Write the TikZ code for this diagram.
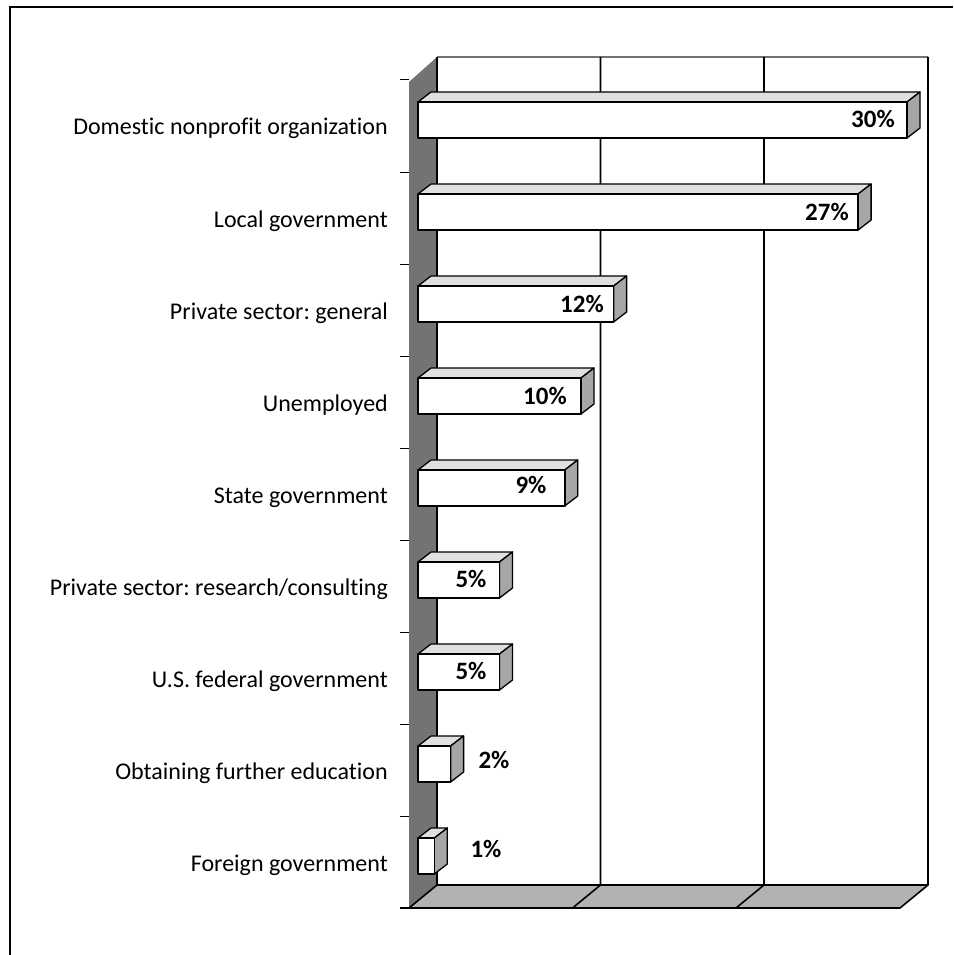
\documentclass[tikz,border=0pt]{standalone}
\usepackage{fontspec}
\setmainfont{Carlito}[Ligatures={NoCommon}]
\begin{document}
\frenchspacing
\begin{tikzpicture}[x=1pt,y=-1pt,
  cat/.style={anchor=base east, font=\fontsize{24}{28}\selectfont, inner sep=0pt},
  val/.style={anchor=base, font=\bfseries\fontsize{25}{29}\selectfont, inner sep=0pt},
  edge/.style={line width=1.6pt, line join=round},
  wallfill/.style={fill=black!55},
  floorfill/.style={fill=black!30},
  bartop/.style={fill=black!12, draw, line width=1.3pt, line join=round},
  barside/.style={fill=black!35, draw, line width=1.3pt, line join=round},
  barfront/.style={fill=white, draw, line width=1.6pt, line join=round},
]
\useasboundingbox (0,0) rectangle (953,955);
% frame
\draw[line width=1.2pt] (953,7) -- (10,7) -- (10,955);
% left wall
\fill[wallfill] (437,57) -- (437,885) -- (409,908) -- (409,82) -- cycle;
% back wall
\fill[white] (437,57) rectangle (928,885);
\draw[black!55,line width=2pt] (437,57) -- (928,57);
% floor
\fill[floorfill] (437,885) -- (928,885) -- (900,908) -- (409,908) -- cycle;
\draw[edge] (928,57) -- (928,885) -- (900,908) -- (400,908);
\draw[edge] (437,57) -- (437,885) -- (928,885);
\draw[edge] (437,885) -- (409,908);
\foreach \x in {600.5,764} \draw[edge] (\x,57) -- (\x,885) -- ++(-28,23);
% ticks
\foreach \k in {0,...,9} \draw[line width=1pt] (400,{80+92*\k}) -- (409,{80+92*\k});
% bars
\foreach \k/\v in {0/30,1/27,2/12,3/10,4/9,5/5,6/5,7/2,8/1}{
  \pgfmathsetmacro\R{418+16.3*\v}
  \pgfmathsetmacro\T{102+92*\k}
  \pgfmathsetmacro\B{138+92*\k}
  \draw[bartop] (418,\T) -- (\R,\T) -- ({\R+13},{\T-10}) -- (431,{\T-10}) -- cycle;
  \draw[barside] (\R,\T) -- ({\R+13},{\T-10}) -- ({\R+13},{\B-10}) -- (\R,\B) -- cycle;
  \draw[barfront] (418,\T) rectangle (\R,\B);
}
% category labels
\node[cat] (c0) at (388,135) {Domestic nonprofit organization};
\node[cat] (c1) at (388,227) {Local government};
\node[cat] (c2) at (388,319) {Private sector: general};
\node[cat] (c3) at (388,411) {Unemployed};
\node[cat] (c4) at (388,503) {State government};
\node[cat] (c5) at (388,595) {Private sector: research/consulting};
\node[cat] (c6) at (388,687) {U.S. federal government};
\node[cat] (c7) at (388,779) {Obtaining further education};
\node[cat] (c8) at (388,871) {Foreign government};
% value labels
\node[val] (v0) at (873,128) {30\%};
\node[val] (v1) at (827,220) {27\%};
\node[val] (v2) at (582,312) {12\%};
\node[val] (v3) at (545,404) {10\%};
\node[val] (v4) at (531,493) {9\%};
\node[val] (v5) at (471,587) {5\%};
\node[val] (v6) at (471,679) {5\%};
\node[val] (v7) at (494,768) {2\%};
\node[val] (v8) at (486,857) {1\%};
\end{tikzpicture}
\end{document}
